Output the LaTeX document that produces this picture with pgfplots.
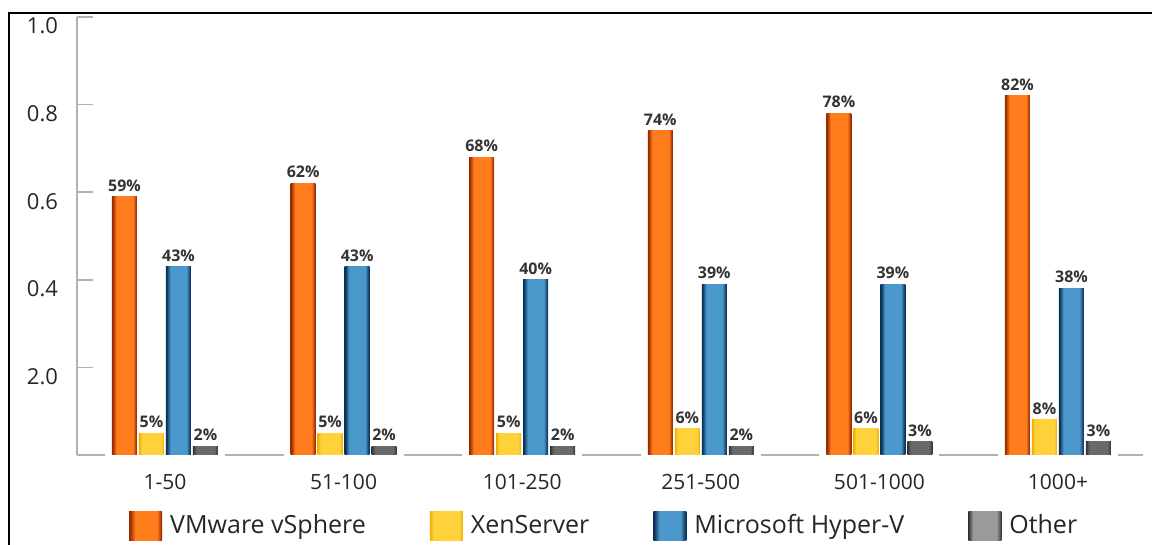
\documentclass[border=0pt]{standalone}
\usepackage{fontspec}
\setmainfont{Open Sans}
\usepackage{pgfplots}
\usepackage{pgfplotstable}
\pgfplotsset{compat=1.18}

\definecolor{vmD}{HTML}{9A2A00}
\definecolor{vmM}{HTML}{FF7D1C}
\definecolor{xnD}{HTML}{F0B000}
\definecolor{xnM}{HTML}{FFD23C}
\definecolor{hvD}{HTML}{0A3055}
\definecolor{hvM}{HTML}{4A98CC}
\definecolor{otD}{HTML}{333333}
\definecolor{otM}{HTML}{6A6A6A}
\definecolor{otL}{HTML}{9A9A9A}

% dark edges, flat bright middle
\pgfdeclarehorizontalshading{vmshade}{100bp}{color(0bp)=(vmD); color(26bp)=(vmD); color(34bp)=(vmM); color(67bp)=(vmM); color(74bp)=(vmD); color(100bp)=(vmD)}
\pgfdeclarehorizontalshading{xnshade}{100bp}{color(0bp)=(xnD); color(25bp)=(xnD); color(31bp)=(xnM); color(69bp)=(xnM); color(75bp)=(xnD); color(100bp)=(xnD)}
\pgfdeclarehorizontalshading{hvshade}{100bp}{color(0bp)=(hvD); color(26bp)=(hvD); color(34bp)=(hvM); color(66bp)=(hvM); color(74bp)=(hvD); color(100bp)=(hvD)}
\pgfdeclarehorizontalshading{otshade}{100bp}{color(0bp)=(otD); color(25bp)=(otD); color(32bp)=(otM); color(68bp)=(otM); color(75bp)=(otD); color(100bp)=(otD)}
\pgfdeclarehorizontalshading{otlshade}{100bp}{color(0bp)=(otD); color(25bp)=(otD); color(32bp)=(otL); color(68bp)=(otL); color(75bp)=(otD); color(100bp)=(otD)}

% share of users per company size (percent)
\pgfplotstableread{
x y
0 59
1 62
2 68
3 74
4 78
5 82
}\vmware
\pgfplotstableread{
x y
0 5
1 5
2 5
3 6
4 6
5 8
}\xen
\pgfplotstableread{
x y
0 43
1 43
2 40
3 39
4 39
5 38
}\hyperv
\pgfplotstableread{
x y
0 2
1 2
2 2
3 2
4 3
5 3
}\other

\pgfplotsset{
  sq legend/.style={legend image code/.code={\path[##1] (0pt,-7.25pt) rectangle (16.5pt,7.25pt);}},
  vm/.style={draw=none, shading=vmshade, shading angle=0},
  xn/.style={draw=none, shading=xnshade, shading angle=0},
  hv/.style={draw=none, shading=hvshade, shading angle=0},
  ot/.style={draw=none, shading=otshade, shading angle=0},
}

\begin{document}
\begin{tikzpicture}
\useasboundingbox (0,0) rectangle (576pt,272.5pt);
\begin{axis}[
    at={(38.5pt,45pt)}, anchor=south west,
    scale only axis, width=533pt, height=219pt,
    xmin=-0.4927, xmax=5.476, ymin=0, ymax=100,
    ybar, bar width=12.5pt,
    axis lines*=left,
    x axis line style={draw=none},
    y axis line style={draw=black!30, line width=0.8pt},
    ytick={20,40,60,80,100},
    yticklabels={2.0,0.4,0.6,0.8,1.0},
    ytick style={draw=black!30, line width=0.8pt},
    tick align=inside, major tick length=8pt,
    xtick={0,...,5},
    xticklabels={1-50,51-100,101-250,251-500,501-1000,1000+},
    xtick style={draw=none},
    yticklabel style={font=\fontsize{11}{12}\selectfont, text=black!85, xshift=-6pt, yshift=-4.5pt},
    xticklabel style={font=\fontsize{10.5}{12}\selectfont, text=black!85, yshift=-6pt},
    nodes near coords={\pgfmathprintnumber{\pgfplotspointmeta}\%},
    every node near coord/.append style={font=\fontsize{8}{9}\selectfont\bfseries, text=black!80, inner sep=2.5pt},
    /pgf/number format/assume math mode=true,
    clip=false,
    legend columns=4,
    legend style={at={(rel axis cs:0.0486,-0.161)}, anchor=west, draw=none, inner sep=0pt,
        font=\fontsize{12.5}{14}\selectfont, text=black!85,
        /tikz/every even column/.append style={column sep=30pt},
        /tikz/every odd column/.append style={column sep=2pt}},
]
% x axis line, broken around each group of bars
\draw[black!30, line width=1pt]
    (axis cs:-0.4927,0) -- (axis cs:-0.336,0)
    (axis cs:0.336,0) -- (axis cs:0.664,0)
    (axis cs:1.336,0) -- (axis cs:1.664,0)
    (axis cs:2.336,0) -- (axis cs:2.664,0)
    (axis cs:3.336,0) -- (axis cs:3.664,0)
    (axis cs:4.336,0) -- (axis cs:4.664,0)
    (axis cs:5.336,0) -- (axis cs:5.476,0);

% one bar per plot so that each bar gets its own shading
\pgfplotsinvokeforeach{0,...,5}{
  \addplot[vm, bar shift=-20.25pt, restrict x to domain=#1:#1, forget plot] table {\vmware};
  \addplot[xn, bar shift=-6.75pt, restrict x to domain=#1:#1, forget plot] table {\xen};
  \addplot[hv, bar shift=6.75pt, restrict x to domain=#1:#1, forget plot] table {\hyperv};
  \addplot[ot, bar shift=20.25pt, restrict x to domain=#1:#1, forget plot] table {\other};
}

\addlegendimage{vm, sq legend}
\addlegendentry{VMware vSphere}
\addlegendimage{xn, sq legend}
\addlegendentry{XenServer}
\addlegendimage{hv, sq legend}
\addlegendentry{Microsoft Hyper-V}
\addlegendimage{draw=none, shading=otlshade, shading angle=0, sq legend}
\addlegendentry{Other}
\end{axis}
% frame of the cut-out picture
\draw[line width=1.1pt] (4.5pt,0) -- (4.5pt,266pt) -- (576pt,266pt);
\end{tikzpicture}
\end{document}
